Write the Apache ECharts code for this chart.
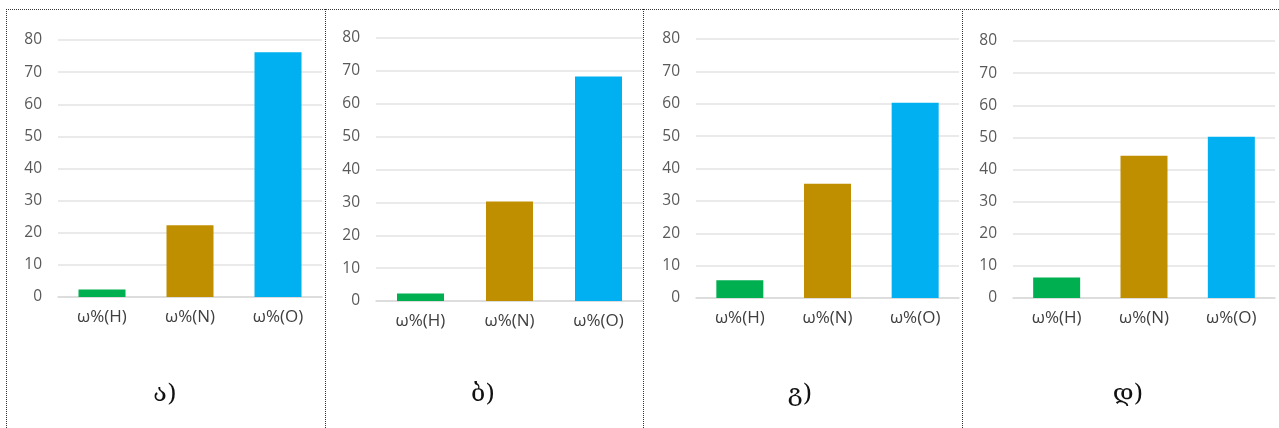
<!DOCTYPE html>
<html><head><meta charset="utf-8">
<script src="https://cdn.jsdelivr.net/npm/echarts@6/dist/echarts.min.js"></script>
<style>html,body{margin:0;padding:0;background:#fff}#c{width:1279px;height:428px}</style>
</head><body><div id="c"></div>
<script>
const categories = ['ω%(H)', 'ω%(N)', 'ω%(O)'];
const panelLabels = ['ა)', 'ბ)', 'გ)', 'დ)'];
const valuesA = [2.3, 22.3, 76.2];
const valuesB = [2.3, 30.3, 68.3];
const valuesC = [5.5, 35.3, 60.3];
const valuesD = [6.4, 44.3, 50.2];
const yTicks = { min: 0, max: 80, interval: 10 };
const barColors = ['#00b050', '#bf8f00', '#00b0f0'];

const allValues = [valuesA, valuesB, valuesC, valuesD];
const grids = [
  { left: 58, width: 264, top: 40, height: 257 },
  { left: 376, width: 267, top: 38, height: 263 },
  { left: 696, width: 263, top: 39, height: 259 },
  { left: 1013, width: 262, top: 41, height: 257 }
];
const labelX = [165, 483, 800, 1128];
const borderX = [6, 325, 643, 962];

const chart = echarts.init(document.getElementById('c'), null, { renderer: 'canvas' });
const option = {
  animation: false,
  backgroundColor: '#fff',
  grid: grids,
  xAxis: grids.map((g, i) => ({
    type: 'category', gridIndex: i, data: categories,
    axisLine: { show: true, lineStyle: { color: '#d9d9d9', width: 1.5 } },
    axisTick: { show: false },
    axisLabel: { color: '#404040', fontSize: 17, fontFamily: 'Open Sans, sans-serif', margin: 12 }
  })),
  yAxis: grids.map((g, i) => ({
    type: 'value', gridIndex: i, min: yTicks.min, max: yTicks.max, interval: yTicks.interval,
    axisLine: { show: false }, axisTick: { show: false },
    splitLine: { lineStyle: { color: '#e3e3e3', width: 1.5 } },
    axisLabel: { color: '#595959', fontSize: 15.5, fontFamily: 'Open Sans, sans-serif', margin: 16 }
  })),
  series: allValues.map((vals, i) => ({
    type: 'bar', xAxisIndex: i, yAxisIndex: i, barWidth: 47,
    data: vals.map((v, j) => ({ value: v, itemStyle: { color: barColors[j] } }))
  })),
  graphic: [
    ...borderX.map(x => ({
      type: 'line', shape: { x1: x + 0.5, y1: 9, x2: x + 0.5, y2: 428 },
      style: { stroke: '#333', lineWidth: 1, lineDash: [1, 1] }, silent: true
    })),
    {
      type: 'line', shape: { x1: 6, y1: 9.5, x2: 1279, y2: 9.5 },
      style: { stroke: '#333', lineWidth: 1, lineDash: [1, 1] }, silent: true
    },
    ...panelLabels.map((t, i) => ({
      type: 'text', x: labelX[i], y: 394,
      style: { text: t, fill: '#111', font: '25px "DejaVu Serif", serif', textAlign: 'center', textVerticalAlign: 'middle' }
    }))
  ]
};
chart.setOption(option);
</script>
</body></html>
